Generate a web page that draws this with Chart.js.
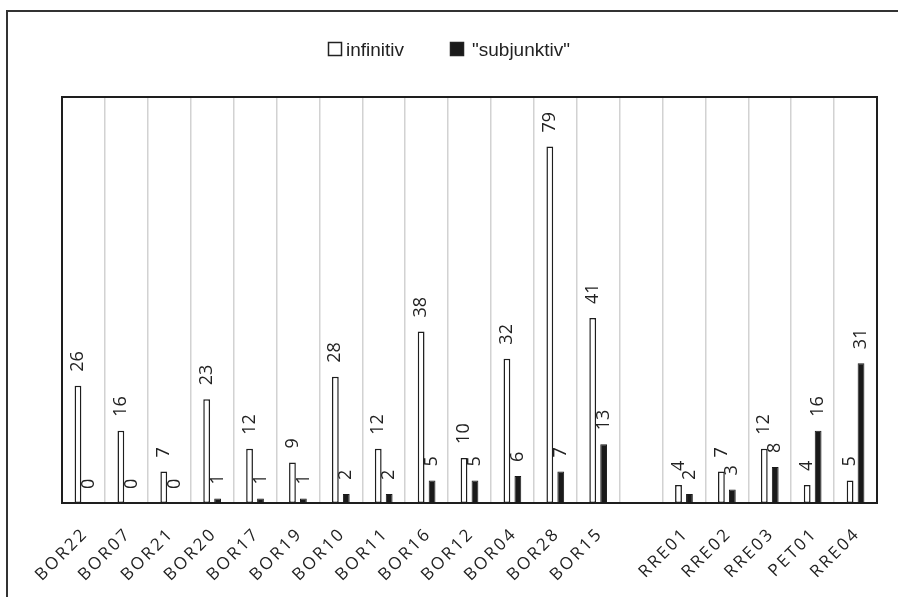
<!DOCTYPE html>
<html>
<head>
<meta charset="utf-8">
<script src="https://cdn.jsdelivr.net/npm/chart.js@4/dist/chart.umd.min.js"></script>
<style>
  html, body { margin: 0; padding: 0; background: #fff; }
  #wrap { width: 898px; height: 597px; }
</style>
</head>
<body>
<div id="wrap"><canvas id="barChart" width="898" height="597"></canvas></div>
<script>
// Categories (empty slot between BOR15 and RRE01 is kept as a gap)
const categories = ["BOR22","BOR07","BOR21","BOR20","BOR17","BOR19","BOR10","BOR11","BOR16","BOR12","BOR04","BOR28","BOR15","","RRE01","RRE02","RRE03","PET01","RRE04"];
const infinitiv   = [26,16,7,23,12,9,28,12,38,10,32,79,41,null,4,7,12,4,5];
const subjunktiv  = [0,0,0,1,1,1,2,2,5,5,6,7,13,null,2,3,8,16,31];
const legendNames = ["infinitiv", "\"subjunktiv\""];

// Frame, legend, value labels and rotated category labels
const extras = {
  id: "extras",
  beforeDatasetsDraw(chart) {
    const ctx = chart.ctx;
    const a = chart.chartArea;
    ctx.save();
    ctx.strokeStyle = "#1e1e1e";
    ctx.lineWidth = 2;
    ctx.strokeRect(a.left, a.top, a.right - a.left, a.bottom - a.top);
    // outer frame (left + top)
    ctx.strokeStyle = "#333";
    ctx.beginPath();
    ctx.moveTo(7, 597);
    ctx.lineTo(7, 11);
    ctx.lineTo(898, 11);
    ctx.stroke();
    ctx.restore();
  },
  afterDatasetsDraw(chart) {
    const ctx = chart.ctx;
    ctx.save();
    ctx.font = '18px "Open Sans"';
    ctx.fillStyle = "#222";
    ctx.textAlign = "left";
    ctx.textBaseline = "middle";
    chart.data.datasets.forEach((ds, i) => {
      chart.getDatasetMeta(i).data.forEach((bar, j) => {
        const v = ds.data[j];
        if (v === null) return;
        ctx.save();
        ctx.translate(bar.x, bar.y - 14);
        ctx.rotate(-Math.PI / 2);
        ctx.fillText(String(v), 0, 0);
        ctx.restore();
      });
    });
    ctx.restore();
  },
  afterDraw(chart) {
    const ctx = chart.ctx;
    const xs = chart.scales.x;
    ctx.save();
    ctx.fillStyle = "#222";
    ctx.font = '17px "Open Sans"';
    ctx.letterSpacing = "2.5px";
    ctx.textAlign = "right";
    ctx.textBaseline = "middle";
    categories.forEach((c, i) => {
      if (!c) return;
      const x = xs.getPixelForValue(i);
      ctx.save();
      ctx.translate(x + 2, xs.bottom + 28);
      ctx.rotate(-Math.PI / 4);
      ctx.fillText(c, 0, 0);
      ctx.restore();
    });
    ctx.letterSpacing = "0px";

    // legend
    ctx.font = '19px "Liberation Sans"';
    ctx.textAlign = "left";
    ctx.textBaseline = "alphabetic";
    ctx.lineWidth = 1.5;
    ctx.strokeStyle = "#222";
    ctx.fillStyle = "#fff";
    ctx.fillRect(328.5, 42.5, 13, 13);
    ctx.strokeRect(328.5, 42.5, 13, 13);
    ctx.fillStyle = "#1a1a1a";
    ctx.fillRect(450.5, 42.5, 13, 13);
    ctx.strokeRect(450.5, 42.5, 13, 13);
    ctx.fillStyle = "#222";
    ctx.fillText(legendNames[0], 346, 56);
    ctx.fillText(legendNames[1], 472, 56);
    ctx.restore();
  }
};

const ctx = document.getElementById("barChart").getContext("2d");
new Chart(ctx, {
  type: "bar",
  data: {
    labels: categories,
    datasets: [
      {
        label: legendNames[0],
        data: infinitiv,
        backgroundColor: "#ffffff",
        borderColor: "#1e1e1e",
        borderWidth: 1.5,
        borderSkipped: false
      },
      {
        label: legendNames[1],
        data: subjunktiv,
        backgroundColor: "#1a1a1a",
        borderColor: "#1a1a1a",
        borderWidth: 1,
        borderSkipped: false
      }
    ]
  },
  options: {
    responsive: false,
    animation: false,
    categoryPercentage: 0.51,
    barPercentage: 0.62,
    layout: { padding: { left: 62, right: 21, top: 97, bottom: 94 } },
    plugins: {
      legend: { display: false },
      tooltip: { enabled: false }
    },
    scales: {
      x: {
        grid: { color: "#d2d2d2", lineWidth: 1.5, drawTicks: false, offset: true },
        border: { display: false },
        ticks: { display: false }
      },
      y: {
        display: false,
        min: 0,
        max: 90
      }
    }
  },
  plugins: [extras]
});
</script>
</body>
</html>
